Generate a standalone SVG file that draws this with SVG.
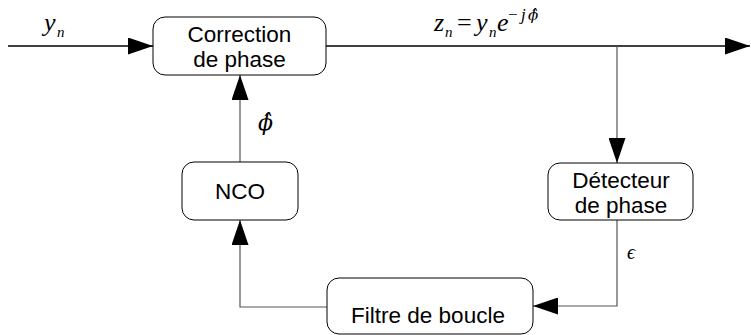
<svg xmlns="http://www.w3.org/2000/svg" width="751" height="335" viewBox="0 0 751 335">
<style>
.box{fill:#fff;stroke:#000;stroke-width:1}
.lbl{font-family:"Liberation Sans",Arial,sans-serif;font-size:22.5px;fill:#000;text-anchor:middle}
.m{font-family:"Liberation Serif","Times New Roman",serif;font-style:italic;fill:#000}
.p{font-family:"DejaVu Serif",serif;font-style:italic;fill:#000}
.c{fill:none;stroke:#000;stroke-width:1.3}
.g{fill:none;stroke:#555;stroke-width:1.2}
</style>
<defs>
<marker id="ah" viewBox="0 0 25 17" refX="25" refY="8.5" markerWidth="25" markerHeight="17" markerUnits="userSpaceOnUse" orient="auto"><path d="M0,0 L25,8.5 L0,17 Z" fill="#000"/></marker>
</defs>
<g id="connectors">
<line class="c" x1="8" y1="46" x2="153" y2="46" marker-end="url(#ah)"/>
<line class="c" x1="326" y1="46" x2="750" y2="46" marker-end="url(#ah)"/>
<polyline class="g" points="617,46 617,163" marker-end="url(#ah)"/>
<polyline class="g" points="617,220 617,306 533,306" marker-end="url(#ah)"/>
<polyline class="g" points="327,307 240,307 240,220" marker-end="url(#ah)"/>
<polyline class="g" points="240,162 240,75" marker-end="url(#ah)"/>
</g>
<g id="correction"><rect class="box" x="153" y="17" width="173" height="58" rx="12"/><text class="lbl" x="239.5" y="42">Correction</text><text class="lbl" x="239.5" y="67">de phase</text></g>
<g id="detecteur"><rect class="box" x="548" y="163" width="145" height="57" rx="12"/><text class="lbl" x="621" y="188">Détecteur</text><text class="lbl" x="621" y="213">de phase</text></g>
<g id="nco"><rect class="box" x="182" y="162" width="116" height="58" rx="12"/><text class="lbl" x="240" y="199">NCO</text></g>
<g id="filtre"><rect class="box" x="327" y="278" width="206" height="56" rx="12"/><text class="lbl" x="428" y="323">Filtre de boucle</text></g>
<g id="labels">
<text class="m" x="44" y="31" font-size="26">y<tspan font-size="15" x="57" y="37">n</tspan></text>
<text class="m" font-size="26"><tspan x="434" y="31">z</tspan><tspan font-size="15" x="445" y="37">n</tspan><tspan font-style="normal" x="457" y="31">=</tspan><tspan x="476" y="31">y</tspan><tspan font-size="15" x="489" y="37">n</tspan><tspan x="497" y="31">e</tspan><tspan font-size="17" font-style="normal" x="508" y="20">−</tspan><tspan font-size="17" x="521" y="20">j</tspan></text>
<text class="p" x="528" y="20" font-size="15">ϕ̂</text>
<text class="p" x="258" y="130" font-size="22">ϕ̂</text>
<text class="m" x="627" y="259" font-size="20">ϵ</text>
</g>
</svg>
